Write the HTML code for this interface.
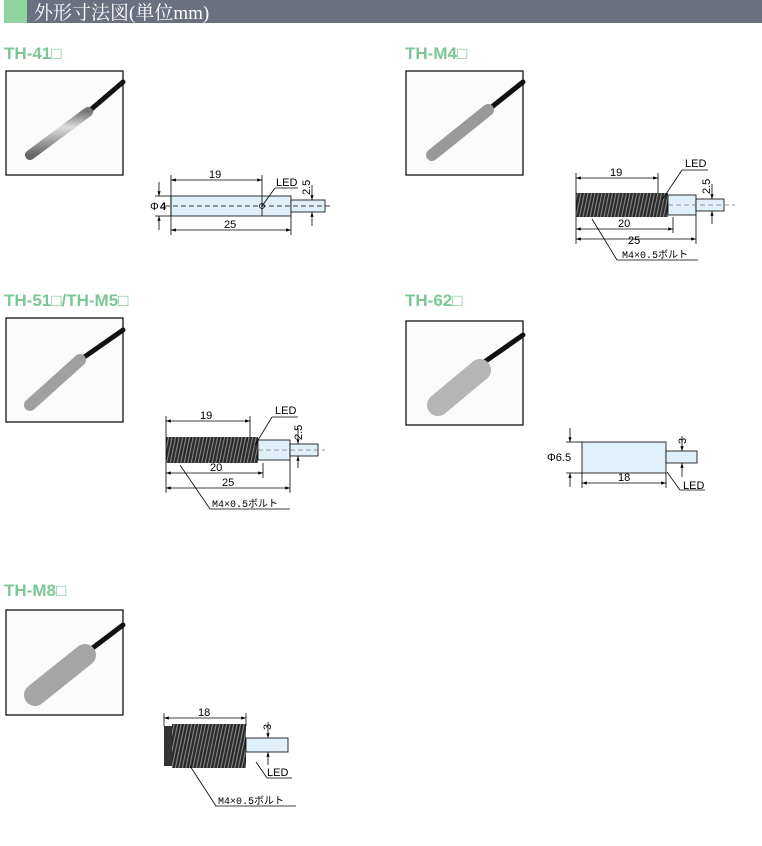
<!DOCTYPE html>
<html><head><meta charset="utf-8"><style>
body{margin:0;background:#fff;width:762px;height:841px;overflow:hidden;font-family:"Liberation Sans",sans-serif}
</style></head><body>
<svg width="762" height="841" xmlns="http://www.w3.org/2000/svg" font-family="Liberation Sans, sans-serif">
<defs>
<pattern id="th" width="3.5" height="30" patternUnits="userSpaceOnUse" patternTransform="skewX(-12)">
<rect width="3.5" height="30" fill="#2a2a2a"/><rect x="2" width="1.1" height="30" fill="#8a8a8a"/>
</pattern>
<linearGradient id="met" x1="0" y1="0" x2="0" y2="1"><stop offset="0" stop-color="#777"/><stop offset="0.35" stop-color="#ddd"/><stop offset="1" stop-color="#666"/></linearGradient>
<marker id="a" markerWidth="6" markerHeight="6" refX="6" refY="3" orient="auto"><path d="M0,1 L6,3 L0,5z" fill="#000"/></marker>
<marker id="b" markerWidth="6" markerHeight="6" refX="0" refY="3" orient="auto"><path d="M6,1 L0,3 L6,5z" fill="#000"/></marker>
</defs>
<rect x="4" y="0" width="23" height="23" fill="#8fd3a0"/>
<rect x="27" y="0" width="735" height="23" fill="#6b7080"/>
<text x="34" y="19" fill="#fff" font-size="19" font-family="Liberation Serif, Noto Serif CJK SC, serif">外形寸法図(単位mm)</text>

<g font-weight="bold" font-size="17" fill="#7cc796">
<text x="4" y="59">TH-41□</text><text x="405" y="59">TH-M4□</text>
<text x="4" y="306">TH-51□/TH-M5□</text><text x="405" y="306">TH-62□</text>
<text x="4" y="596">TH-M8□</text>
</g>

<g stroke="#000" stroke-width="1.2" fill="#fbfbfb">
<rect x="6" y="71" width="117" height="104"/><rect x="406" y="71" width="117" height="104"/>
<rect x="6" y="318" width="117" height="104"/><rect x="406" y="321" width="117" height="104"/>
<rect x="6" y="610" width="117" height="105"/>
</g>
<g stroke-linecap="round">
<line x1="88" y1="112" x2="123" y2="82" stroke="#111" stroke-width="5"/>
<line x1="30" y1="155" x2="88" y2="112" stroke="url(#met)" stroke-width="10"/>
<line x1="488" y1="110" x2="523" y2="82" stroke="#111" stroke-width="5"/>
<line x1="432" y1="155" x2="488" y2="110" stroke="#999" stroke-width="12"/>
<line x1="80" y1="360" x2="123" y2="330" stroke="#111" stroke-width="5"/>
<line x1="30" y1="405" x2="80" y2="360" stroke="#a0a0a0" stroke-width="12"/>
<line x1="480" y1="365" x2="523" y2="335" stroke="#111" stroke-width="5"/>
<line x1="438" y1="405" x2="480" y2="370" stroke="#b5b5b5" stroke-width="22"/>
<line x1="90" y1="650" x2="123" y2="625" stroke="#111" stroke-width="5"/>
<line x1="35" y1="695" x2="85" y2="655" stroke="#a5a5a5" stroke-width="22"/>
</g>

<g stroke="#000" stroke-width="0.8" font-size="11" fill="none">
<rect x="171" y="196" width="120" height="20" fill="#dff0f8"/>
<rect x="291" y="200" width="34" height="12" fill="#dff0f8"/>
<line x1="165" y1="206" x2="333" y2="206" stroke-dasharray="5,3"/>
<line x1="171" y1="175" x2="171" y2="235"/><line x1="262" y1="175" x2="262" y2="216"/><line x1="291" y1="216" x2="291" y2="235"/>
<line x1="171" y1="180" x2="262" y2="180" marker-start="url(#b)" marker-end="url(#a)"/>
<line x1="171" y1="230" x2="291" y2="230" marker-start="url(#b)" marker-end="url(#a)"/>
<line x1="155" y1="196" x2="171" y2="196"/><line x1="155" y1="216" x2="171" y2="216"/>
<line x1="159" y1="182" x2="159" y2="196" marker-end="url(#a)"/><line x1="159" y1="230" x2="159" y2="216" marker-end="url(#a)"/>
<line x1="312" y1="185" x2="312" y2="200" marker-end="url(#a)"/><line x1="312" y1="226" x2="312" y2="212" marker-end="url(#a)"/>
<circle cx="262" cy="206" r="2.5"/><line x1="262" y1="206" x2="275" y2="188"/><line x1="275" y1="188" x2="298" y2="188"/>
<rect x="576" y="193" width="92" height="24" fill="url(#th)" stroke="none"/>
<rect x="668" y="195" width="28" height="20" fill="#dff0f8"/>
<rect x="696" y="199" width="28" height="12" fill="#dff0f8"/>
<line x1="668" y1="205" x2="735" y2="205" stroke-dasharray="5,3" stroke="#777"/>
<line x1="576" y1="173" x2="576" y2="244"/><line x1="658" y1="173" x2="658" y2="193"/><line x1="673" y1="217" x2="673" y2="233"/><line x1="696" y1="215" x2="696" y2="244"/>
<line x1="576" y1="178" x2="658" y2="178" marker-start="url(#b)" marker-end="url(#a)"/>
<line x1="576" y1="229" x2="673" y2="229" marker-start="url(#b)" marker-end="url(#a)"/>
<line x1="576" y1="239" x2="696" y2="239" marker-start="url(#b)" marker-end="url(#a)"/>
<line x1="712" y1="184" x2="712" y2="199" marker-end="url(#a)"/><line x1="712" y1="224" x2="712" y2="211" marker-end="url(#a)"/>
<line x1="662" y1="200" x2="682" y2="170"/><line x1="682" y1="170" x2="708" y2="170"/>
<line x1="592" y1="219" x2="617" y2="260"/><line x1="617" y1="260" x2="698" y2="260"/>
<rect x="166" y="437" width="92" height="26" fill="url(#th)" stroke="none"/>
<rect x="258" y="440" width="32" height="20" fill="#dff0f8"/>
<rect x="290" y="444" width="28" height="12" fill="#dff0f8"/>
<line x1="258" y1="450" x2="325" y2="450" stroke-dasharray="5,3" stroke="#777"/>
<line x1="166" y1="416" x2="166" y2="493"/><line x1="250" y1="416" x2="250" y2="437"/><line x1="263" y1="463" x2="263" y2="478"/><line x1="290" y1="460" x2="290" y2="493"/>
<line x1="166" y1="421" x2="250" y2="421" marker-start="url(#b)" marker-end="url(#a)"/>
<line x1="166" y1="473" x2="263" y2="473" marker-start="url(#b)" marker-end="url(#a)"/>
<line x1="166" y1="488" x2="290" y2="488" marker-start="url(#b)" marker-end="url(#a)"/>
<line x1="298" y1="428" x2="298" y2="444" marker-end="url(#a)"/><line x1="298" y1="468" x2="298" y2="456" marker-end="url(#a)"/>
<line x1="255" y1="445" x2="272" y2="417"/><line x1="272" y1="417" x2="298" y2="417"/>
<line x1="180" y1="465" x2="210" y2="509"/><line x1="210" y1="509" x2="290" y2="509"/>
<rect x="582" y="442" width="84" height="31" fill="#dff0f8"/>
<rect x="666" y="451" width="31" height="12" fill="#dff0f8"/>
<line x1="566" y1="442" x2="582" y2="442"/><line x1="566" y1="473" x2="582" y2="473"/>
<line x1="570" y1="428" x2="570" y2="442" marker-end="url(#a)"/><line x1="570" y1="487" x2="570" y2="473" marker-end="url(#a)"/>
<line x1="582" y1="473" x2="582" y2="488"/><line x1="666" y1="473" x2="666" y2="488"/>
<line x1="582" y1="483" x2="666" y2="483" marker-start="url(#b)" marker-end="url(#a)"/>
<line x1="682" y1="436" x2="682" y2="451" marker-end="url(#a)"/><line x1="682" y1="477" x2="682" y2="463" marker-end="url(#a)"/>
<line x1="667" y1="472" x2="680" y2="490"/><line x1="680" y1="490" x2="705" y2="490"/>
<rect x="164" y="726" width="10" height="40" fill="#333" stroke="none"/>
<rect x="172" y="724" width="74" height="44" fill="url(#th)" stroke="none"/>
<rect x="246" y="738" width="42" height="14" fill="#dff0f8"/>
<line x1="164" y1="713" x2="164" y2="726"/><line x1="246" y1="713" x2="246" y2="726"/>
<line x1="164" y1="718" x2="246" y2="718" marker-start="url(#b)" marker-end="url(#a)"/>
<line x1="268" y1="722" x2="268" y2="738" marker-end="url(#a)"/><line x1="268" y1="765" x2="268" y2="752" marker-end="url(#a)"/>
<line x1="256" y1="762" x2="267" y2="778"/><line x1="267" y1="778" x2="292" y2="778"/>
<line x1="190" y1="766" x2="216" y2="806"/><line x1="216" y1="806" x2="296" y2="806"/>
</g>

<g font-size="11" fill="#000">
<text x="209" y="178">19</text><text x="224" y="228">25</text><text x="276" y="186">LED</text>
<text x="150" y="210">Φ</text><text x="160" y="210" font-weight="bold">4</text>
<text transform="translate(310,195) rotate(-90)">2.5</text>
<text x="610" y="176">19</text><text x="618" y="227">20</text><text x="628" y="244">25</text><text x="685" y="167">LED</text>
<text transform="translate(710,194) rotate(-90)">2.5</text>
<text x="622" y="258" font-size="10" font-family="Liberation Mono, Noto Sans CJK JP, monospace">M4×0.5ボルト</text>
<text x="200" y="419">19</text><text x="210" y="471">20</text><text x="222" y="486">25</text><text x="275" y="414">LED</text>
<text transform="translate(302,440) rotate(-90)">2.5</text>
<text x="212" y="507" font-size="10" font-family="Liberation Mono, Noto Sans CJK JP, monospace">M4×0.5ボルト</text>
<text x="547" y="461">Φ6.5</text><text x="618" y="481">18</text><text x="683" y="489">LED</text>
<text transform="translate(686,444) rotate(-90)">3</text>
<text x="198" y="716">18</text><text x="267" y="776">LED</text>
<text transform="translate(271,730) rotate(-90)">3</text>
<text x="218" y="804" font-size="10" font-family="Liberation Mono, Noto Sans CJK JP, monospace">M4×0.5ボルト</text>
</g>
</svg>
</body></html>
